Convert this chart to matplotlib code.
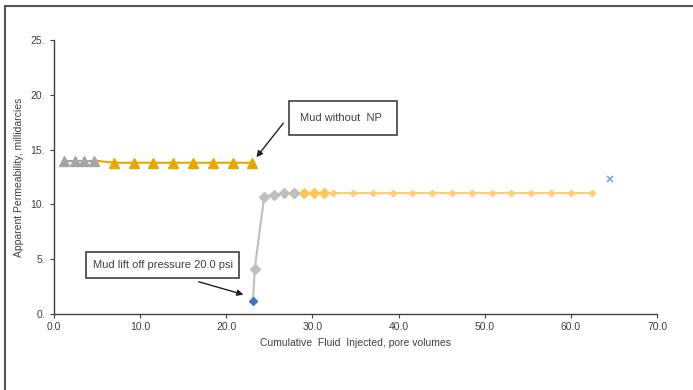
import matplotlib
matplotlib.use("Agg")
import matplotlib.pyplot as plt
from matplotlib.patches import Rectangle
from matplotlib.lines import Line2D

plt.rcParams['font.family'] = ['Liberation Sans', 'DejaVu Sans']

# Data
gray_tri_x = [1.2, 2.4, 3.5, 4.6]
gray_tri_y = [14.0, 14.0, 14.0, 14.0]
gold_tri_x = [4.6, 7.0, 9.3, 11.5, 13.8, 16.1, 18.4, 20.8, 23.0]
gold_tri_y = [14.0, 13.8, 13.8, 13.8, 13.8, 13.8, 13.8, 13.8, 13.8]
blue_pt_x = [23.1]
blue_pt_y = [1.2]
gray_dia_x = [23.1, 23.3, 24.4, 25.5, 26.7, 27.9]
gray_dia_y = [1.2, 4.1, 10.7, 10.9, 11.0, 11.0]
gold_dia_x = [27.9, 29.0, 30.2, 31.3]
gold_dia_y = [11.0, 11.0, 11.0, 11.0]
lt_x = [31.3, 32.4, 34.7, 37.0, 39.3, 41.6, 43.9, 46.2, 48.5, 50.8, 53.1, 55.4, 57.7, 60.0, 62.4]
lt_y = [11.0] * 15
star_x = [64.6]
star_y = [12.3]
xticks = [0, 10, 20, 30, 40, 50, 60, 70]
xtick_labels = ["0.0", "10.0", "20.0", "30.0", "40.0", "50.0", "60.0", "70.0"]
yticks = [0, 5, 10, 15, 20, 25]
ytick_labels = ["0.", "5.", "10.", "15.", "20.", "25."]

W, H = 693, 390
TXT = '#404040'
fig = plt.figure(figsize=(W / 100, H / 100), dpi=100)
ax = fig.add_axes([54 / W, 1 - 314 / H, (657 - 54) / W, (314 - 40) / H])

ax.plot(gold_tri_x, gold_tri_y, color='#E6A800', lw=1.5, marker='^', ms=6.5,
        markevery=list(range(1, len(gold_tri_x))), zorder=3)
ax.plot(gray_tri_x, gray_tri_y, color='#A5A5A5', lw=1.5, marker='^', ms=6.5, zorder=4)
ax.plot(lt_x, lt_y, color='#FFCC7A', lw=1.5, marker='D', ms=3.2,
        markevery=list(range(1, len(lt_x))), zorder=3)
ax.plot(gold_dia_x, gold_dia_y, color='#FFC65C', lw=1.5, marker='D', ms=5.2, zorder=4)
ax.plot(gray_dia_x, gray_dia_y, color='#BFBFBF', lw=1.5, marker='D', ms=5.2,
        markevery=list(range(1, len(gray_dia_x))), zorder=5)
ax.plot(blue_pt_x, blue_pt_y, ls='none', marker='D', ms=4.2, color='#4472C4', zorder=6)
ax.plot(star_x, star_y, ls='none', marker='x', ms=5, mew=1.2, color='#7FA8D8', zorder=6)

ax.set_xlim(0, 70)
ax.set_ylim(0, 25)
ax.set_xticks(xticks)
ax.set_xticklabels(xtick_labels)
ax.set_yticks(yticks)
ax.set_yticklabels(ytick_labels)
for s in ['top', 'right']:
    ax.spines[s].set_visible(False)
for s in ['left', 'bottom']:
    ax.spines[s].set_color('#404040')
    ax.spines[s].set_linewidth(1.0)
ax.tick_params(axis='both', labelsize=7.5, colors=TXT, length=3, width=0.8)
ax.tick_params(axis='x', pad=3)
ax.set_xlabel("Cumulative  Fluid  Injected, pore volumes", fontsize=7.5, color=TXT, labelpad=4)
ax.set_ylabel("Apparent Permeability, millidarcies", fontsize=7.5, color=TXT, labelpad=5)


def fx(px):
    return px / W


def fy(py):
    return 1 - py / H


# Annotation boxes
fig.add_artist(Rectangle((fx(289), fy(135)), (397 - 289) / W, (135 - 101) / H,
                         transform=fig.transFigure, fill=False, ec='#404040', lw=1.2, zorder=10))
fig.text(fx(300), fy(118), "Mud without  NP", fontsize=8, color=TXT, va='center', ha='left')
fig.add_artist(Rectangle((fx(86), fy(278)), (239 - 86) / W, (278 - 252) / H,
                         transform=fig.transFigure, fill=False, ec='#404040', lw=1.2, zorder=10))
fig.text(fx(93), fy(265), "Mud lift off pressure 20.0 psi", fontsize=8, color=TXT, va='center', ha='left')

ax.annotate("", xy=(gold_tri_x[-1] + 0.3, gold_tri_y[-1] + 0.3), xycoords='data',
            xytext=(fx(285), fy(121)), textcoords='figure fraction',
            arrowprops=dict(arrowstyle='-|>', color='#202020', lw=1.0, mutation_scale=9))
ax.annotate("", xy=(blue_pt_x[0] - 0.8, blue_pt_y[0] + 0.5), xycoords='data',
            xytext=(fx(196), fy(281)), textcoords='figure fraction',
            arrowprops=dict(arrowstyle='-|>', color='#202020', lw=1.0, mutation_scale=9))

# Figure frame (left and top visible)
fig.add_artist(Line2D([fx(5), fx(5)], [fy(6), 0], transform=fig.transFigure, color='#555555', lw=1.5))
fig.add_artist(Line2D([fx(5), 1], [fy(6), fy(6)], transform=fig.transFigure, color='#555555', lw=1.5))

fig.savefig("out.png", dpi=100)
